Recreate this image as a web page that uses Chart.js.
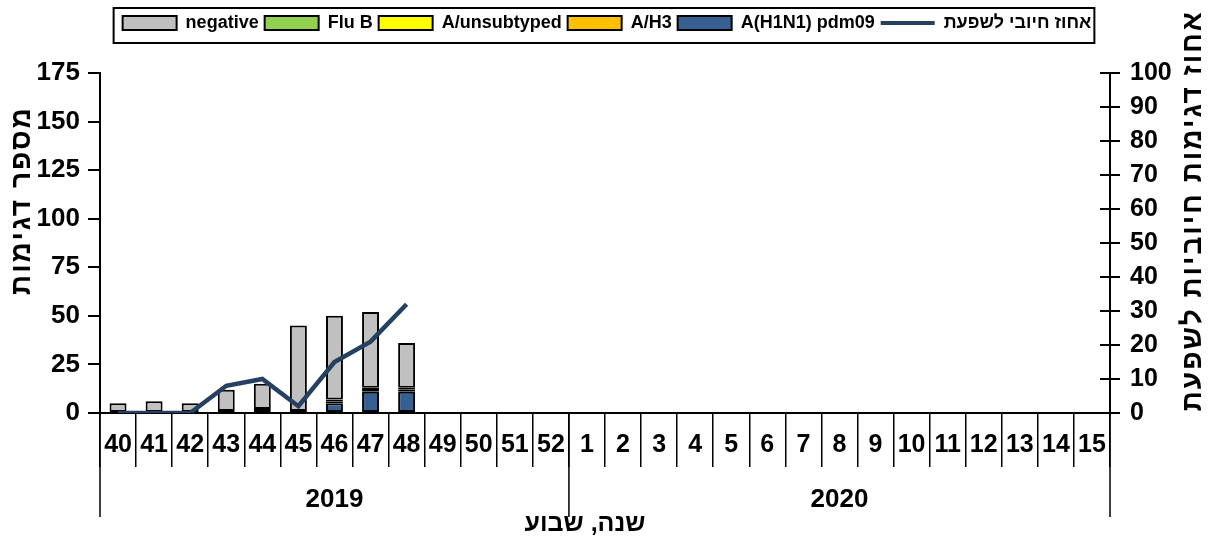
<!DOCTYPE html>
<html>
<head>
<meta charset="utf-8">
<script src="https://cdn.jsdelivr.net/npm/chart.js@4.4.0/dist/chart.umd.min.js"></script>
<style>
  html, body { margin:0; padding:0; background:#fff; }
  #wrap { width:1214px; height:542px; position:relative; }
</style>
</head>
<body>
<div id="wrap"><canvas id="fluChart"></canvas></div>
<script>
// week labels (2019 wk 40 .. 2020 wk 15)
const weeks = ['40','41','42','43','44','45','46','47','48','49','50','51','52',
               '1','2','3','4','5','6','7','8','9','10','11','12','13','14','15'];
const years = ['2019','2020'];
const yearSpans = [13, 15];

// sample counts (stacked bars), only weeks 40-48 reported so far
const h1n1 = [null,null,null,null,2,null,5,11,11];
const h3 = [null,null,null,1,null,1,1,2,1];
const unsubtyped = [null,null,null,null,null,null,null,null,null];
const fluB = [null,null,null,null,null,null,1,null,1];
const negative = [5,6,5,11,13,44,43,39,23];

// percent positive for influenza (right axis)
const positivePct = [0,0,0,8,10,2,15,21,32];

const FONT = '"Liberation Sans", Arial, sans-serif';

Chart.defaults.font.family = FONT;
Chart.defaults.color = '#000';

const legendSpace = {
    id: 'legendSpace',
    beforeInit(chart){
        const fit = chart.legend.fit;
        chart.legend.fit = function(){ fit.call(this); this.height = 65; };
    }
};

const decor = {
    id: 'decor',
    afterDraw(chart){
        const ctx = chart.ctx;
        const x = chart.scales.x, y1 = chart.scales.y1, area = chart.chartArea;
        ctx.save();

        // frame round the legend
        const boxes = chart.legend.legendHitBoxes || [];
        if(boxes.length){
            const l = Math.min(...boxes.map(b => b.left)) - 9;
            const r = Math.max(...boxes.map(b => b.left + b.width)) + 3;
            ctx.strokeStyle = '#000'; ctx.lineWidth = 2;
            ctx.strokeRect(l, chart.legend.top, r - l, 35);
        }

        // year row: long separators + year labels
        const half = (x.getPixelForValue(1) - x.getPixelForValue(0)) / 2;
        const edges = [x.getPixelForValue(0) - half];
        ctx.font = 'bold 26px ' + FONT;
        ctx.textAlign = 'center'; ctx.textBaseline = 'middle'; ctx.fillStyle = '#000';
        let start = 0;
        yearSpans.forEach((n, i) => {
            const l = x.getPixelForValue(start) - half;
            const r = x.getPixelForValue(start + n - 1) + half;
            edges.push(r);
            ctx.fillText(years[i], (l + r) / 2, area.bottom + 87);
            start += n;
        });
        ctx.strokeStyle = '#000'; ctx.lineWidth = 1.5;
        ctx.beginPath();
        edges.forEach(e => { ctx.moveTo(e, area.bottom); ctx.lineTo(e, area.bottom + 104); });
        ctx.stroke();

        // right axis ticks also reach inside the plot
        ctx.lineWidth = 2;
        ctx.beginPath();
        y1.ticks.forEach(t => {
            const py = y1.getPixelForValue(t.value);
            ctx.moveTo(area.right - 10, py); ctx.lineTo(area.right, py);
        });
        ctx.stroke();

        // axis titles
        ctx.font = 'bold 28px ' + FONT;
        ctx.letterSpacing = '2px';
        ctx.save();
        ctx.translate(22, area.top + (area.bottom - area.top) * 0.375);
        ctx.rotate(-Math.PI / 2);
        ctx.fillText('מספר דגימות', 0, 0);
        ctx.restore();

        ctx.save();
        ctx.translate(1193, area.top + (area.bottom - area.top) * 0.405);
        ctx.rotate(-Math.PI / 2);
        ctx.fillText('אחוז דגימות חיוביות לשפעת', 0, 0);
        ctx.restore();

        ctx.letterSpacing = '0px';
        ctx.font = 'bold 25px ' + FONT;
        ctx.fillText('שנה, שבוע', (area.left + area.right) / 2 - 20, area.bottom + 111);
        ctx.restore();
    }
};

const barStyle = { borderColor:'#000', borderWidth:2, borderSkipped:false, barPercentage:0.47, categoryPercentage:1, pointStyle:'rect', yAxisID:'y' };

new Chart(document.getElementById('fluChart'), {
    data: {
        labels: weeks,
        datasets: [
            { type:'line', label:'אחוז חיובי לשפעת', data: positivePct, yAxisID:'y1',
              borderColor:'#254061', backgroundColor:'#254061', borderWidth:4.5, tension:0,
              pointRadius:0, pointHoverRadius:0, pointStyle:'line', pointBorderWidth:4, pointBorderColor:'#254061' },
            { type:'bar', label:'A(H1N1) pdm09', data: h1n1, backgroundColor:'#376092', ...barStyle },
            { type:'bar', label:'A/H3', data: h3, backgroundColor:'#ffc000', ...barStyle },
            { type:'bar', label:'A/unsubtyped', data: unsubtyped, backgroundColor:'#ffff00', ...barStyle },
            { type:'bar', label:'Flu B', data: fluB, backgroundColor:'#92d050', ...barStyle },
            { type:'bar', label:'negative', data: negative, backgroundColor:'#c0c0c0', ...barStyle }
        ]
    },
    options: {
        responsive:true, maintainAspectRatio:false, animation:false,
        layout:{ padding:{ top:8, left:0, right:0, bottom:0 } },
        plugins:{
            tooltip:{ enabled:false },
            legend:{
                position:'top', reverse:true,
                labels:{ usePointStyle:true, pointStyleWidth:54, boxHeight:14, padding:6,
                         color:'#000', font:{ size:18, weight:'bold' } }
            }
        },
        scales:{
            x:{
                stacked:true,
                grid:{ offset:true, drawOnChartArea:false, tickLength:54, color:'#000', lineWidth:1.5 },
                border:{ color:'#000', width:2 },
                ticks:{ autoSkip:false, maxRotation:0, minRotation:0, padding:-37,
                        font:{ size:25, weight:'bold' } },
                afterFit(s){ s.height = 129; }
            },
            y:{
                position:'left', stacked:true, min:0, max:175,
                grid:{ drawOnChartArea:false, tickLength:12, color:'#000', lineWidth:2 },
                border:{ color:'#000', width:2 },
                ticks:{ stepSize:25, padding:8, font:{ size:26, weight:'bold' } },
                afterFit(s){ s.width = 100; }
            },
            y1:{
                position:'right', min:0, max:100,
                grid:{ drawOnChartArea:false, tickLength:10, color:'#000', lineWidth:2 },
                border:{ color:'#000', width:2 },
                ticks:{ stepSize:10, padding:10, font:{ size:25, weight:'bold' } },
                afterFit(s){ s.width = 104; }
            }
        }
    },
    plugins:[legendSpace, decor]
});
</script>
</body>
</html>
